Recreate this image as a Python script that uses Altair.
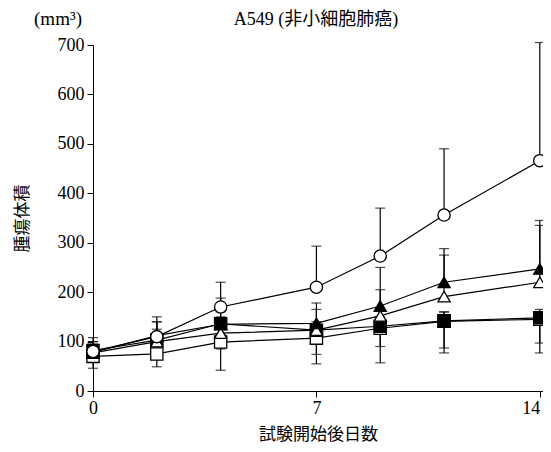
import altair as alt
import pandas as pd

days = [0, 2, 4, 7, 9, 11, 14]
circle = [80, 110, 170, 210, 273, 356, 466]
circle_hi = [100, 140, 220, 293, 370, 490, 705]
ftri = [78, 112, 135, 137, 172, 220, 247]
ftri_hi = [100, 150, 188, 178, 250, 288, 345]
otri = [77, 100, 117, 123, 152, 191, 220]
otri_hi = [95, 140, 160, 165, 205, 275, 335]
fsq = [82, 103, 136, 123, 131, 142, 148]
fsq_lo = [62, 72, 85, 74, 90, 87, 97]
fsq_hi = [108, 125, 150, 140, 150, 160, 165]
osq = [70, 75, 99, 107, 127, 141, 145]
osq_lo = [46, 49, 42, 55, 57, 77, 77]
osq_hi = [90, 95, 115, 125, 145, 160, 160]

series = [
    ("osq", osq, osq_lo, osq_hi, "square", "white", 1),
    ("fsq", fsq, fsq_lo, fsq_hi, "square", "black", 2),
    ("otri", otri, otri, otri_hi, "triangle-up", "white", 3),
    ("ftri", ftri, ftri, ftri_hi, "triangle-up", "black", 4),
    ("circle", circle, circle, circle_hi, "circle", "white", 5),
]

rows, caps = [], []
for name, vals, lo, hi, shape, fill, order in series:
    for d, v, l, h in zip(days, vals, lo, hi):
        rows.append(dict(series=name, day=d, value=v, lo=l, hi=h, shape=shape, fill=fill, order=order))
        if h > v:
            caps.append(dict(series=name, day=d, cap=h))
        if l < v:
            caps.append(dict(series=name, day=d, cap=l))
df = pd.DataFrame(rows)
cdf = pd.DataFrame(caps)

SERIF = "Liberation Serif, Noto Sans CJK JP"
JP = "Noto Sans CJK JP"

xs = alt.Scale(domain=[0, 14.1], nice=False)
ys = alt.Scale(domain=[0, 700], nice=False)

xenc = alt.X("day:Q", scale=xs, axis=alt.Axis(values=[0, 7, 14], title="試験開始後日数",
    titleFont=JP, titleFontSize=17, titleFontWeight="normal", titlePadding=9,
    labelFont="Liberation Serif", labelFontSize=18, tickSize=6, labelPadding=2,
    labelAlign={"condition": {"test": "datum.value >= 13", "value": "right"}, "value": "center"},
    grid=False, domainColor="black", tickColor="black", labelColor="black", titleColor="black"))
yenc = alt.Y("value:Q", scale=ys, axis=alt.Axis(values=list(range(0, 701, 100)), title="腫瘍体積",
    titleFont=JP, titleFontSize=17, titleFontWeight="normal", titlePadding=26,
    labelFont="Liberation Serif", labelFontSize=18, tickSize=6, labelPadding=3,
    grid=False, domainColor="black", tickColor="black", labelColor="black", titleColor="black"))

base = alt.Chart(df)
err = base.mark_rule(color="black", strokeWidth=1.2).encode(
    x=xenc, y=alt.Y("lo:Q", scale=ys), y2="hi:Q")
capm = alt.Chart(cdf).mark_tick(color="black", orient="horizontal", size=10, thickness=1.2).encode(
    x=alt.X("day:Q", scale=xs), y=alt.Y("cap:Q", scale=ys))
lines = base.mark_line(color="black", strokeWidth=1.2).encode(
    x=alt.X("day:Q", scale=xs), y=yenc, detail="series:N")
pts = base.mark_point(filled=True, size=150, stroke="black", strokeWidth=1.3, opacity=1).encode(
    x=alt.X("day:Q", scale=xs), y=alt.Y("value:Q", scale=ys),
    shape=alt.Shape("shape:N", scale=None), fill=alt.Fill("fill:N", scale=None),
    order=alt.Order("order:Q"))
unit = alt.Chart(pd.DataFrame({"t": ["(mm³)"]})).mark_text(
    font="Liberation Serif", fontSize=19, align="center", baseline="alphabetic", color="black").encode(
    text="t:N", x=alt.value(-35), y=alt.value(-20))
ttl = alt.Chart(pd.DataFrame({"t": ["A549 (非小細胞肺癌)"]})).mark_text(
    font=SERIF, fontSize=18, align="center", baseline="alphabetic", color="black").encode(
    text="t:N", x=alt.value(223), y=alt.value(-20))

chart = alt.layer(err, capm, lines, pts, unit, ttl).properties(
    width=450, height=346,
    autosize=alt.AutoSizeParams(type="none"),
    padding={"left": 85, "top": 37, "right": 0, "bottom": 53},
).configure_view(stroke=None)

chart.save("out.html", embed_options={"renderer": "svg", "actions": False})
